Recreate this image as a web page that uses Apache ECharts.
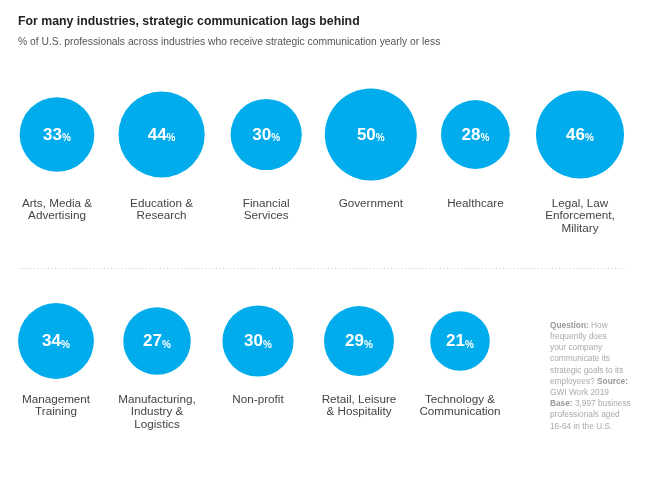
<!DOCTYPE html>
<html>
<head>
<meta charset="utf-8">
<script src="https://cdn.jsdelivr.net/npm/echarts@6/dist/echarts.min.js"></script>
<style>html,body{margin:0;padding:0;background:#fff}#c{width:663px;height:477px}</style>
</head>
<body>
<div id="c"></div>
<script>
var row1Categories = ['Arts, Media &\nAdvertising', 'Education &\nResearch', 'Financial\nServices', 'Government', 'Healthcare', 'Legal, Law\nEnforcement,\nMilitary'];
var row1Values = [33, 44, 30, 50, 28, 46];
var row2Categories = ['Management\nTraining', 'Manufacturing,\nIndustry &\nLogistics', 'Non-profit', 'Retail, Leisure\n& Hospitality', 'Technology &\nCommunication'];
var row2Values = [34, 27, 30, 29, 21];
var titleText = 'For many industries, strategic communication lags behind';
var subtitleText = '% of U.S. professionals across industries who receive strategic communication yearly or less';
var noteLines = ['{b|Question:} How', 'frequently does', 'your company', 'communicate its', 'strategic goals to its', 'employees? {b|Source:}', 'GWI Work 2019', '{b|Base:} 3,997 business', 'professionals aged', '16-64 in the U.S.'];

var FONT = '"Liberation Sans", Arial, Helvetica, sans-serif';
var BLUE = '#00acec';

function toData(vals) {
  return vals.map(function (v, i) { return [i, 0, v]; });
}
function sizeOf(d) { return 13 * Math.sqrt(d[2]); }

var chart = echarts.init(document.getElementById('c'), null, { renderer: 'canvas' });

var xAxisCommon = {
  type: 'category',
  position: 'bottom',
  axisLine: { show: false },
  axisTick: { show: false },
  splitLine: { show: false },
  axisLabel: {
    color: '#444',
    fontSize: 11.7,
    lineHeight: 12.5,
    fontFamily: FONT,
    interval: 0
  }
};

var labelCommon = {
  show: true,
  position: 'inside',
  formatter: function (p) { return '{a|' + p.data[2] + '}{p|%}'; },
  rich: {
    a: { color: '#fff', fontSize: 17, fontWeight: 'bold', fontFamily: FONT, verticalAlign: 'bottom', lineHeight: 18 },
    p: { color: '#fff', fontSize: 10, fontWeight: 'bold', fontFamily: FONT, verticalAlign: 'bottom', lineHeight: 16 }
  }
};

chart.setOption({
  animation: false,
  backgroundColor: '#fff',
  title: [
    { text: titleText, left: 13, top: 11, textStyle: { fontSize: 12.3, fontWeight: 'bold', color: '#222', fontFamily: FONT } },
    { text: subtitleText, left: 13, top: 32, textStyle: { fontSize: 10.3, fontWeight: 'normal', color: '#555', fontFamily: FONT } }
  ],
  grid: [
    { left: 4.7, width: 627.6, top: 85, height: 99 },
    { left: 5.5, width: 505, top: 292, height: 98 }
  ],
  xAxis: [
    Object.assign({}, xAxisCommon, { gridIndex: 0, data: row1Categories, axisLabel: Object.assign({}, xAxisCommon.axisLabel, { margin: 13.5 }) }),
    Object.assign({}, xAxisCommon, { gridIndex: 1, data: row2Categories, axisLabel: Object.assign({}, xAxisCommon.axisLabel, { margin: 3.5 }) })
  ],
  yAxis: [
    { gridIndex: 0, type: 'value', min: -1, max: 1, show: false },
    { gridIndex: 1, type: 'value', min: -1, max: 1, show: false }
  ],
  series: [
    { type: 'scatter', xAxisIndex: 0, yAxisIndex: 0, data: toData(row1Values), symbolSize: sizeOf, itemStyle: { color: BLUE, opacity: 1 }, label: labelCommon, emphasis: { disabled: true } },
    { type: 'scatter', xAxisIndex: 1, yAxisIndex: 1, data: toData(row2Values), symbolSize: sizeOf, itemStyle: { color: BLUE, opacity: 1 }, label: labelCommon, emphasis: { disabled: true } }
  ],
  graphic: [
    { type: 'line', shape: { x1: 20, y1: 268.5, x2: 626, y2: 268.5 }, style: { stroke: '#c8c8c8', lineWidth: 1, lineDash: [1, 2.5] }, silent: true },
    { type: 'text', left: 550, top: 320, style: {
      text: noteLines.join('\n'),
      fill: '#aaa', fontSize: 8.3, lineHeight: 11.2, fontFamily: FONT,
      rich: { b: { fill: '#999', fontSize: 8.3, fontWeight: 'bold', fontFamily: FONT, lineHeight: 11.2 } }
    } }
  ]
});
</script>
</body>
</html>
